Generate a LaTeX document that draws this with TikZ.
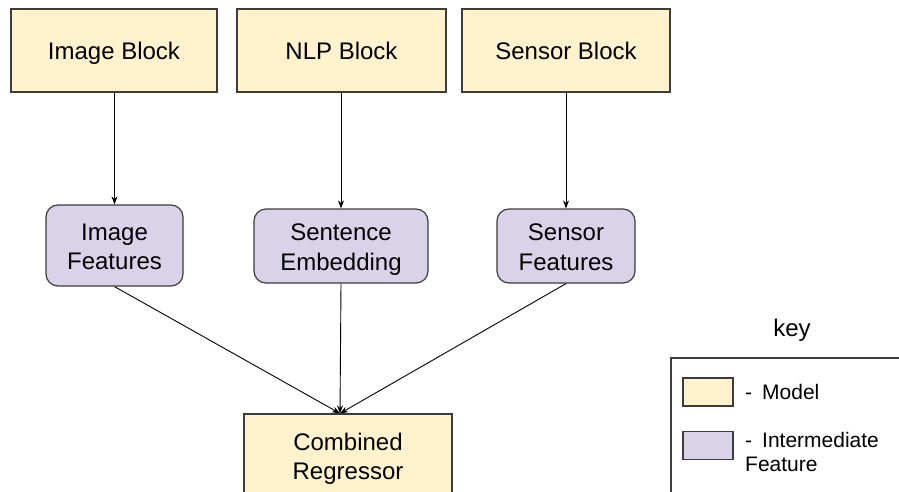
\documentclass[tikz,border=0pt]{standalone}
\usepackage{fontspec}
\setmainfont{Liberation Sans}
\usetikzlibrary{arrows.meta}
\definecolor{modelfill}{HTML}{FFF2CC}
\definecolor{featfill}{HTML}{D9D2E9}
\definecolor{edgegray}{HTML}{3C3C3C}
\begin{document}
\begin{tikzpicture}[x=1pt,y=-1pt,
  modelbox/.style={draw=edgegray,line width=1.2pt,fill=modelfill,inner sep=0pt,
    font=\fontsize{24}{29.5}\selectfont,align=center,text height=24pt,text depth=5pt},
  featbox/.style={draw=edgegray,line width=1.2pt,fill=featfill,inner sep=0pt,
    rounded corners=12pt,font=\fontsize{24}{29.5}\selectfont,align=center,
    text height=53pt,text depth=5pt},
  swatch/.style={draw=edgegray,line width=1.2pt,inner sep=0pt,minimum width=50pt,minimum height=28pt},
  keytext/.style={font=\fontsize{21}{24}\selectfont,align=left,inner sep=0pt},
  link/.style={draw=black,line width=0.9pt,-{Stealth[length=8pt,width=6pt]}}]
\clip (0,0) rectangle (899,492);
\fill[white] (0,0) rectangle (899,492);

% model blocks
\node[modelbox,minimum width=206pt,minimum height=83pt] (img) at (114,50.5) {Image Block};
\node[modelbox,minimum width=209pt,minimum height=83pt] (nlp) at (341.5,50.5) {NLP Block};
\node[modelbox,minimum width=208pt,minimum height=83pt] (sen) at (566,50.5) {Sensor Block};

% intermediate features
\node[featbox,minimum width=137pt,minimum height=81pt] (imgf) at (114.5,245.5) {Image\\Features};
\node[featbox,minimum width=174pt,minimum height=74pt] (sent) at (341,246) {Sentence\\Embedding};
\node[featbox,minimum width=138pt,minimum height=74pt] (senf) at (566,246) {Sensor\\Features};

% regressor (box runs past the lower edge)
\draw[draw=edgegray,line width=1.2pt,fill=modelfill] (244,414) rectangle (452,498);
\node[font=\fontsize{24}{29.5}\selectfont,align=center] (reg) at (348,459) {Combined\\Regressor};
\coordinate (regin) at (340,413.4);

% connectors
\draw[link] (img.south -| imgf.north) -- (imgf.north);
\draw[link] (nlp.south -| sent.north) -- (sent.north);
\draw[link] (sen.south -| senf.north) -- (senf.north);
\draw[link] (imgf.south) -- (regin);
\draw[link] (sent.south) -- (regin);
\draw[link] (senf.south) -- (regin);

% key
\node[font=\fontsize{24}{29}\selectfont] (keyt) at (792,330) {key};
\draw[draw=edgegray,line width=1.2pt,fill=white] (671,358) rectangle (910,510);
\node[swatch,fill=modelfill] (kmod) at (708,392) {};
\node[swatch,fill=featfill] (kfeat) at (708,445.5) {};
\node[keytext,anchor=west] (kmodt) at (745,392) {-\hspace{10pt}Model};
\node[keytext,anchor=north west] (kfeatt) at (745,432) {-\hspace{10pt}Intermediate\\Feature};
\end{tikzpicture}
\end{document}
